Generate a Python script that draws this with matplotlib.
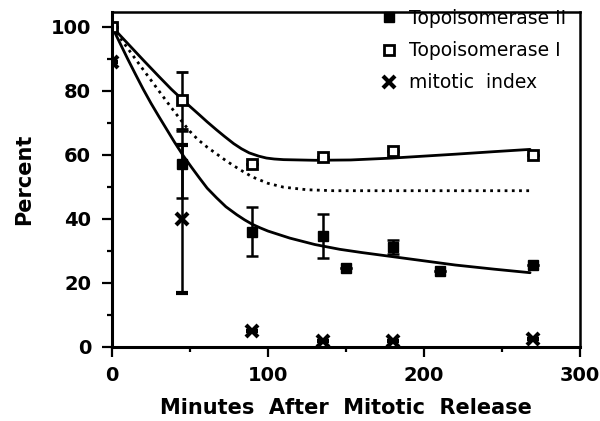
import matplotlib
matplotlib.use("Agg")
import matplotlib.pyplot as plt
from matplotlib.lines import Line2D

# ---- data ----
topo2_x = [0, 45, 90, 135, 150, 180, 210, 270]
topo2_y = [100, 57, 36, 34.6, 24.7, 31.2, 23.6, 25.7]
topo2_err = [0, 10.5, 7.6, 6.8, 0, 2.3, 0, 0]

topo1_x = [0, 45, 90, 135, 180, 270]
topo1_y = [100, 77, 57, 59.3, 61.3, 60]
topo1_err = [0, 9, 0, 0, 0, 0]

mitotic_x = [0, 45, 90, 135, 180, 270]
mitotic_y = [89, 40, 5, 2, 2, 2.5]
mitotic_err = [0, 23, 0, 0, 0, 0]

# fitted curves
fit1_x = [0, 10, 20, 30, 38, 45, 50, 56, 61, 67, 72, 78, 83, 88, 94, 99, 104, 110,
          130, 153, 180, 200, 220, 245, 268]
fit1_y = [100, 94.8, 89.6, 84.5, 80.5, 77.3, 75.1, 72.5, 70.3, 67.8, 65.8, 63.5, 61.9,
          60.6, 59.6, 59.0, 58.7, 58.5, 58.3, 58.4, 59, 59.6, 60.2, 61, 61.7]

fit2_x = [0, 5, 10, 15, 20, 25, 30, 35, 40, 46, 51, 56, 61, 67, 73, 80, 85, 90, 95, 100,
          114, 130, 146, 160, 180, 200, 220, 245, 268]
fit2_y = [100, 95, 90, 85.2, 80.5, 76.1, 72, 68, 64, 59.5, 56.1, 52.8, 49.6, 46.6, 43.8,
          41.3, 39.7, 38.3, 37.2, 36.2, 34, 32, 30.5, 29.5, 28.2, 26.9, 25.6, 24.3, 23.2]

dot_x = [0, 10, 20, 30, 37, 45, 50, 55, 61, 67, 73, 78, 84, 90, 100, 110, 125, 142, 200, 268]
dot_y = [100, 93.3, 86.6, 80, 75.4, 70.3, 67.3, 64.8, 62.4, 60.3, 58.2, 56.6, 54.8, 53.1,
         51.1, 49.9, 49.1, 48.8, 48.8, 48.8]

xticks = [0, 100, 200, 300]
yticks = [0, 20, 40, 60, 80, 100]
legend_labels = ["Topoisomerase II", "Topoisomerase I", "mitotic  index"]

# ---- figure ----
fig = plt.figure(figsize=(6, 4.21), dpi=100)
ax = fig.add_axes([112/600, 74/421, 468/600, 335/421])

tickfont = dict(family="DejaVu Sans", weight="bold", size=14)
labelfont = dict(family="DejaVu Sans", weight="bold", size=15)

ax.plot(fit1_x, fit1_y, color="black", lw=2.0, solid_capstyle="round", solid_joinstyle="round")
ax.plot(fit2_x, fit2_y, color="black", lw=2.0, solid_capstyle="round", solid_joinstyle="round")
ax.plot(dot_x, dot_y, color="black", lw=2.0, linestyle=(0, (1.0, 1.6)))

ekw = dict(ecolor="black", elinewidth=1.8, capsize=4.5, capthick=1.8, linestyle="none")
ax.errorbar(topo2_x, topo2_y, yerr=topo2_err, fmt="s", mfc="black", mec="black",
            ms=7.5, **ekw)
ax.errorbar(topo1_x, topo1_y, yerr=topo1_err, fmt="s", mfc="white", mec="black",
            mew=2.0, ms=7.5, **ekw)
ax.errorbar(mitotic_x, mitotic_y, yerr=mitotic_err, fmt="x", color="black",
            mew=3.0, ms=8.5, **ekw)

ax.set_xlim(0, 300)
ax.set_ylim(0, 104.6)
ax.set_xticks(xticks)
ax.set_xticks([50, 150, 250], minor=True)
ax.set_yticks(yticks)
ax.set_yticks([10, 30, 50, 70, 90], minor=True)
ax.set_xticklabels([str(t) for t in xticks], fontdict=tickfont)
ax.set_yticklabels([str(t) for t in yticks], fontdict=tickfont)
ax.tick_params(which="major", direction="out", length=7, width=1.6, pad=7)
ax.tick_params(axis="y", which="major", pad=8)
ax.tick_params(which="minor", direction="out", length=3.5, width=1.6)
for s in ax.spines.values():
    s.set_linewidth(1.8)
ax.spines["left"].set_linewidth(2.2)
ax.spines["bottom"].set_linewidth(2.2)

ax.set_xlabel("Minutes  After  Mitotic  Release", fontdict=labelfont, labelpad=9)
ax.set_ylabel("Percent", fontdict=labelfont, labelpad=12)

handles = [
    Line2D([], [], marker="s", ls="none", mfc="black", mec="black", ms=7.5),
    Line2D([], [], marker="s", ls="none", mfc="white", mec="black", mew=2.0, ms=7.5),
    Line2D([], [], marker="x", ls="none", color="black", mew=3.0, ms=8.5),
]
ax.legend(handles, legend_labels, loc="upper left", bbox_to_anchor=(380/600, 1 - 9/421),
          bbox_transform=fig.transFigure, frameon=False, borderpad=0, borderaxespad=0,
          handlelength=1.0, handletextpad=0.55, labelspacing=0.7,
          prop=dict(family="DejaVu Sans", size=13.5))

fig.savefig("out.png", dpi=100)
